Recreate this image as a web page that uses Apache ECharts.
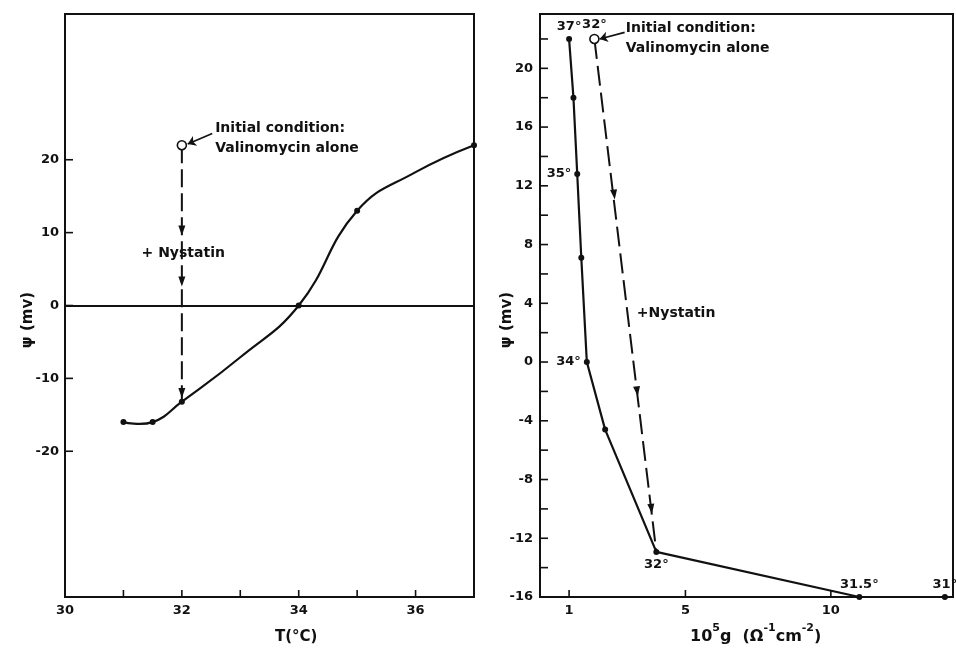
<!DOCTYPE html>
<html><head><meta charset="utf-8">
<script src="https://cdn.jsdelivr.net/npm/echarts@6/dist/echarts.min.js"></script>
<style>html,body{margin:0;padding:0;background:#fff}#c{width:956px;height:649px}</style>
</head><body><div id="c"></div>
<script>
// ---- Left panel: psi (mV) vs T (°C) ----
const leftT = [31, 31.5, 32, 34, 35, 37];
const leftPsi = [-16, -16, -13.2, 0, 13, 22];
// points (for its shape)
const leftCurveT = [31, 31.5, 32, 33, 34, 35, 36, 37];
const leftCurvePsi = [-16, -16, -13.2, -7.1, 0, 13, 18.3, 22];
const leftInitial = [32, 22];
const leftDashed = [[32, 22], [32, -13.2]];
const leftArrows = [[32, 10.3], [32, 3.3], [32, -12]];
const leftXTicks = [31, 32, 33, 34, 35, 36];
const leftXLabels = [30, 32, 34, 36];
const leftYTicks = [-20, -10, 0, 10, 20];

// ---- Right panel: psi (mV) vs 10^5 g ----
const rightG = [1.0, 1.15, 1.28, 1.42, 1.61, 2.24, 4.0, 10.98, 13.92];
const rightPsi = [22, 18, 12.8, 7.1, 0, -4.6, -12.93, -16, -16];
const rightTemps = ['37°', '', '35°', '', '34°', '', '32°', '31.5°', '31°'];
const rightInitial = [1.87, 22];
const rightInitialTemp = '32°';
const rightDashed = [[1.87, 22], [4.0, -12.93]];
const rightArrows = [[2.55, 11.4], [3.34, -2.0], [3.83, -10]];
const rightXTicks = [1, 5, 10];
const rightXLabels = [1, 5, 10];
const rightYTicks = [-14, -12, -10, -8, -6, -4, -2, 0, 2, 4, 6, 8, 10, 12, 14, 16, 18, 20, 22];
const rightYLabels = [-16, -12, -8, -4, 0, 4, 8, 12, 16, 20];

const FONT = 'DejaVu Sans';
const INK = '#111';
const tempLabelPos = ['top', 'top', 'left', 'top', 'left', 'top', 'bottom', 'top', 'top'];

function tickSeries(xi, dir, values, fixed, len) {
  return {
    type: 'custom', xAxisIndex: xi, yAxisIndex: xi, silent: true, clip: false, z: 5,
    data: values.map(v => dir === 'x' ? [v, fixed] : [fixed, v]),
    renderItem: (params, api) => {
      const p = api.coord([api.value(0), api.value(1)]);
      const shape = dir === 'x'
        ? { x1: p[0], y1: p[1], x2: p[0], y2: p[1] - len }
        : { x1: p[0], y1: p[1], x2: p[0] + len, y2: p[1] };
      return { type: 'line', shape, style: { stroke: INK, lineWidth: 1.6 } };
    }
  };
}

function textSeries(xi, pts) {
  return {
    type: 'scatter', xAxisIndex: xi, yAxisIndex: xi, silent: true, symbolSize: 0,
    itemStyle: { opacity: 1 },
    data: pts.map(p => ({ value: [p[0], p[1]], label: { formatter: p[2] } })),
    label: { show: true, position: 'right', distance: 0, color: INK, fontFamily: FONT,
             fontSize: 14, fontWeight: 'bold', lineHeight: 20 }
  };
}

function axisLabelStyle(list) {
  return { show: true, color: INK, fontFamily: FONT, fontSize: 13, fontWeight: 'bold',
           formatter: v => list.indexOf(v) >= 0 ? String(v) : '' };
}

const axisLine = { show: true, onZero: false, lineStyle: { color: INK, width: 2 } };
const nameFont = 'bold 15px "DejaVu Sans"';

const option = {
  animation: false,
  textStyle: { fontFamily: FONT },
  grid: [
    { left: 65, top: 14, width: 409, height: 583, show: true, borderColor: INK, borderWidth: 2 },
    { left: 540, top: 14, width: 418, height: 583, show: true, borderColor: INK, borderWidth: 2 }
  ],
  xAxis: [
    { gridIndex: 0, type: 'value', min: 30, max: 37, interval: 1, splitLine: { show: false },
      axisLine, axisTick: { show: false }, axisLabel: Object.assign(axisLabelStyle(leftXLabels), { margin: 7 }) },
    { gridIndex: 1, type: 'value', min: 0, max: 14.2, interval: 1, splitLine: { show: false },
      axisLine, axisTick: { show: false }, axisLabel: Object.assign(axisLabelStyle(rightXLabels), { margin: 7 }) }
  ],
  yAxis: [
    { gridIndex: 0, type: 'value', min: -40, max: 40, interval: 10, splitLine: { show: false },
      axisLine, axisTick: { show: false }, axisLabel: Object.assign(axisLabelStyle(leftYTicks), { margin: 6 }) },
    { gridIndex: 1, type: 'value', min: -16, max: 23.7, interval: 2, splitLine: { show: false },
      axisLine, axisTick: { show: false }, axisLabel: Object.assign(axisLabelStyle(rightYLabels), { margin: 7 }) }
  ],
  graphic: [
    { type: 'text', left: 275, top: 630, style: { text: 'T(°C)', fill: INK, font: nameFont } },
    { type: 'text', left: 690, top: 623, style: {
        text: '{n|10}{s|5}{n|g  (Ω}{s|-1}{n|cm}{s|-2}{n|)}', fill: INK,
        rich: { n: { fontSize: 16, fontWeight: 'bold', fontFamily: FONT, fill: INK, verticalAlign: 'bottom', lineHeight: 22 },
                s: { fontSize: 11, fontWeight: 'bold', fontFamily: FONT, fill: INK, verticalAlign: 'top', lineHeight: 22 } } } },
    { type: 'text', x: 28, y: 320, rotation: Math.PI / 2,
      style: { text: 'ψ (mv)', fill: INK, font: nameFont, align: 'center', verticalAlign: 'middle' } },
    { type: 'text', x: 507, y: 320, rotation: Math.PI / 2,
      style: { text: 'ψ (mv)', fill: INK, font: nameFont, align: 'center', verticalAlign: 'middle' } }
  ],
  series: [
    // left smooth curve, drawn through the axis scales
    { type: 'custom', xAxisIndex: 0, yAxisIndex: 0, silent: true, clip: false, z: 3,
      data: leftCurveT.map((t, i) => [t, leftCurvePsi[i]]),
      renderItem: (params, api) => {
        if (params.dataIndex !== 0) return null;
        const pts = leftCurveT.map((t, i) => api.coord([t, leftCurvePsi[i]]));
        return { type: 'polyline', shape: { points: pts, smooth: 0.45 },
                 style: { stroke: INK, lineWidth: 2.2, fill: null } };
      } },
    { type: 'scatter', xAxisIndex: 0, yAxisIndex: 0, symbol: 'circle', symbolSize: 6, clip: false, z: 4,
      itemStyle: { color: INK, opacity: 1 }, data: leftT.map((t, i) => [t, leftPsi[i]]),
      markLine: { silent: true, symbol: 'none', label: { show: false },
        lineStyle: { color: INK, width: 2, type: 'solid', opacity: 1 }, data: [{ yAxis: 0 }] } },
    // left dashed
    { type: 'line', xAxisIndex: 0, yAxisIndex: 0, symbol: 'none',
      lineStyle: { color: INK, width: 2, type: [18, 6] }, data: leftDashed },
    { type: 'scatter', xAxisIndex: 0, yAxisIndex: 0, symbol: 'triangle', symbolSize: [7, 10],
      symbolRotate: 180, itemStyle: { color: INK, opacity: 1 }, data: leftArrows },
    { type: 'scatter', xAxisIndex: 0, yAxisIndex: 0, symbol: 'circle', symbolSize: 9, z: 6,
      itemStyle: { color: '#fff', borderColor: INK, borderWidth: 1.6, opacity: 1 }, data: [leftInitial] },
    { type: 'lines', coordinateSystem: 'cartesian2d', xAxisIndex: 0, yAxisIndex: 0,
      symbol: ['none', 'arrow'], symbolSize: 8, lineStyle: { color: INK, width: 1.6, opacity: 1 },
      data: [{ coords: [[32.52, 23.6], [32.1, 22.15]] }] },
    textSeries(0, [[32.57, 22.9, 'Initial condition:\nValinomycin alone'], [31.31, 7.1, '+ Nystatin']]),
    tickSeries(0, 'x', leftXTicks, -40, 7),
    tickSeries(0, 'y', leftYTicks, 30, 8),

    // right main
    { type: 'line', xAxisIndex: 1, yAxisIndex: 1, symbol: 'circle', symbolSize: 6, clip: false,
      itemStyle: { color: INK }, lineStyle: { color: INK, width: 2.2 },
      data: rightG.map((g, i) => ({ value: [g, rightPsi[i]],
        label: { show: !!rightTemps[i], formatter: rightTemps[i], position: tempLabelPos[i], distance: 3 } })),
      label: { color: INK, fontFamily: FONT, fontSize: 13, fontWeight: 'bold' } },
    { type: 'line', xAxisIndex: 1, yAxisIndex: 1, symbol: 'none',
      lineStyle: { color: INK, width: 2, type: [20, 7] }, data: rightDashed },
    { type: 'scatter', xAxisIndex: 1, yAxisIndex: 1, symbol: 'triangle', symbolSize: [7, 10],
      symbolRotate: 187, itemStyle: { color: INK, opacity: 1 }, data: rightArrows },
    { type: 'scatter', xAxisIndex: 1, yAxisIndex: 1, symbol: 'circle', symbolSize: 9, z: 6,
      itemStyle: { color: '#fff', borderColor: INK, borderWidth: 1.6, opacity: 1 },
      label: { show: true, formatter: rightInitialTemp, position: 'top', distance: 3, color: INK, fontFamily: FONT, fontSize: 13, fontWeight: 'bold' },
      data: [rightInitial] },
    { type: 'lines', coordinateSystem: 'cartesian2d', xAxisIndex: 1, yAxisIndex: 1,
      symbol: ['none', 'arrow'], symbolSize: 8, lineStyle: { color: INK, width: 1.6, opacity: 1 },
      data: [{ coords: [[2.91, 22.45], [2.05, 22.0]] }] },
    textSeries(1, [[2.95, 22.05, 'Initial condition:\nValinomycin alone'], [3.33, 3.3, '+Nystatin']]),
    tickSeries(1, 'x', rightXTicks, -16, 7),
    tickSeries(1, 'y', rightYTicks, 0, 8)
  ]
};
echarts.init(document.getElementById('c')).setOption(option);
</script>
</body></html>
